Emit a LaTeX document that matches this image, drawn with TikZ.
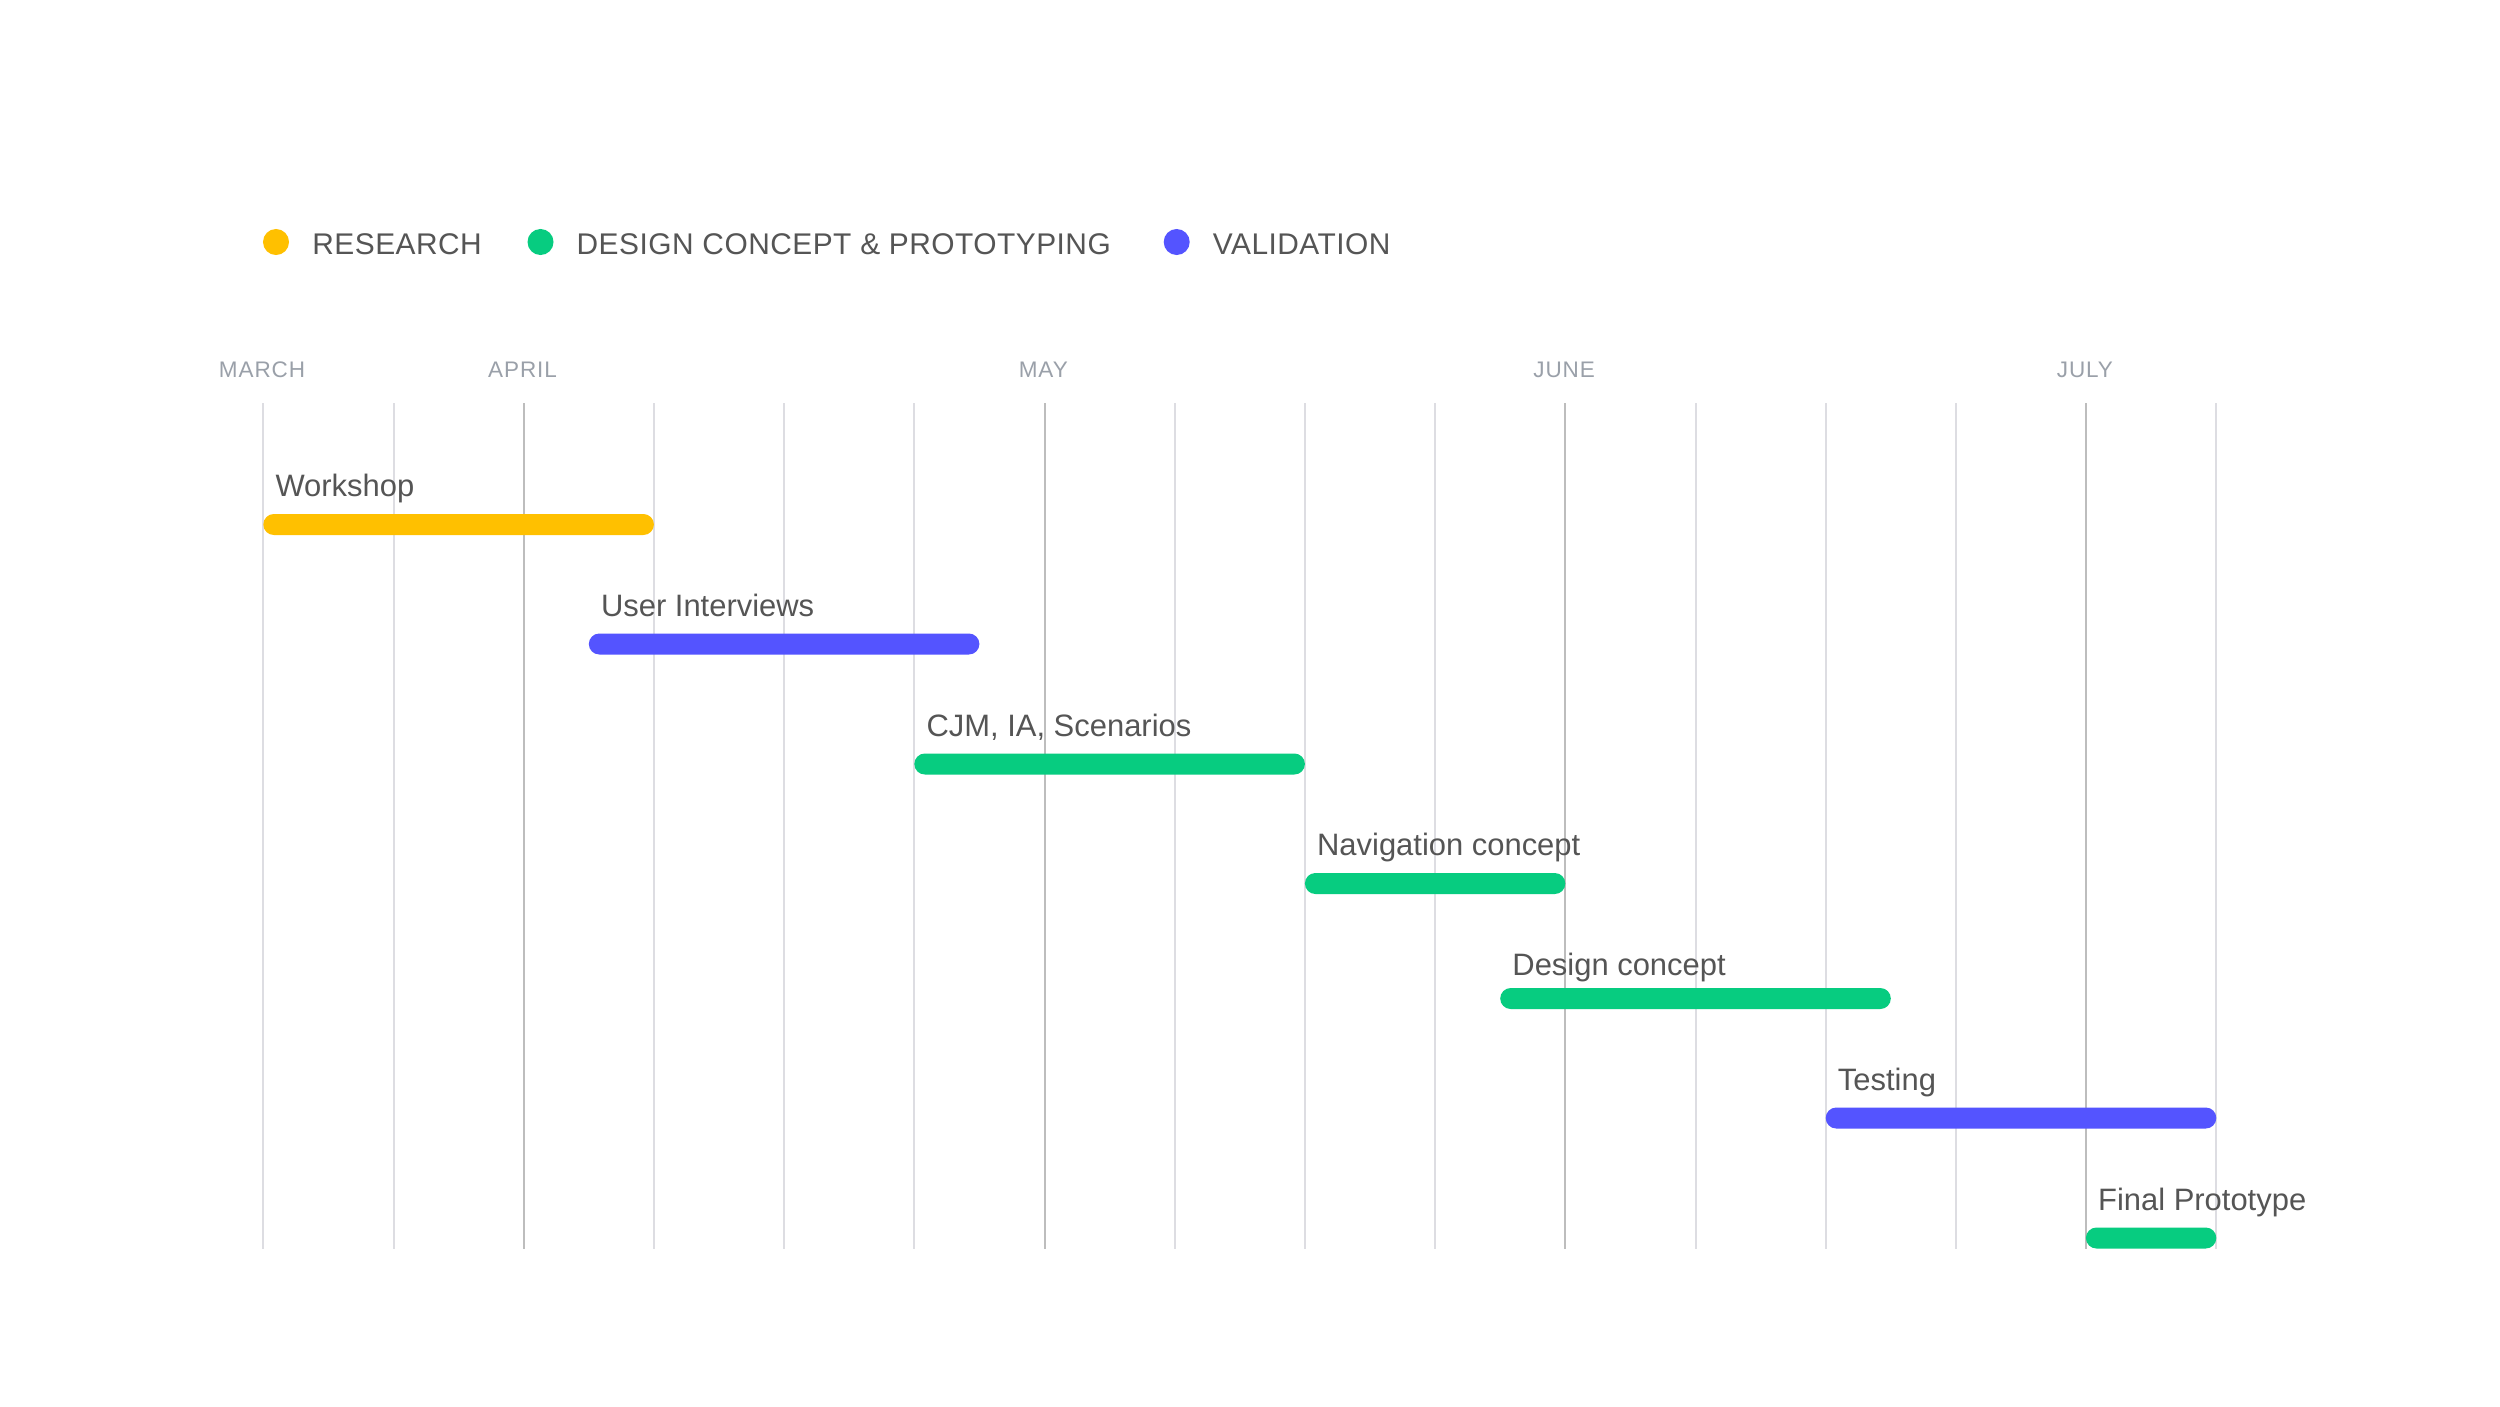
\documentclass[tikz,border=0pt]{standalone}
\usepackage{fontspec}
\setmainfont{Liberation Sans}
\usepackage{xcolor}
\usepackage{tikz}
\usetikzlibrary{positioning,calc}

\definecolor{research}{HTML}{FFC000}
\definecolor{design}{HTML}{07CC80}
\definecolor{validation}{HTML}{5454FF}
\definecolor{labeltext}{HTML}{555555}
\definecolor{monthtext}{HTML}{9AA0A9}
\definecolor{gridlight}{HTML}{DDDDE2}
\definecolor{griddark}{HTML}{BDBDBD}

\tikzset{
    gridline/.style={draw=gridlight, line width=0.02cm},
    monthline/.style={draw=griddark, line width=0.02cm},
    monthlabel/.style={anchor=base, inner sep=0pt, text=monthtext, font=\fontsize{6.4}{7}\selectfont\addfontfeature{LetterSpace=4}},
    legendlabel/.style={anchor=base west, inner sep=0pt, text=labeltext, font=\fontsize{8.5}{10}\selectfont\addfontfeature{LetterSpace=1.6}},
    legenddot/.style={circle, inner sep=0pt, minimum size=0.26cm},
    tasklabel/.style={anchor=base west, inner sep=0pt, text=labeltext, font=\fontsize{8.8}{10}\selectfont},
    bar/.style={rounded corners=0.105cm}
}

\begin{document}
\begin{tikzpicture}[x=0.01cm, y=-0.01cm]
    \useasboundingbox [fill=white] (0, 0) rectangle (2500, 1406);

    % Legend
    \node [legenddot, fill=research] (dotresearch) at (276, 242) {};
    \node [legendlabel] (legresearch) at (311.7, 254) {RESEARCH};
    \node [legenddot, fill=design] (dotdesign) at (540.5, 242) {};
    \node [legendlabel] (legdesign) at (576, 254) {DESIGN CONCEPT \& PROTOTYPING};
    \node [legenddot, fill=validation] (dotvalidation) at (1176.7, 242) {};
    \node [legendlabel] (legvalidation) at (1212.2, 254) {VALIDATION};

    % Week grid
    \foreach \i in {0,...,15}
        \draw [gridline] ({263.3+130.2*\i}, 403) -- ({263.3+130.2*\i}, 1249);
    \foreach \i in {2,6,10,14}
        \draw [monthline] ({263.3+130.2*\i}, 403) -- ({263.3+130.2*\i}, 1249);

    % Months
    \node [monthlabel] (march) at (262, 377.5) {MARCH};
    \node [monthlabel] (april) at (522.5, 377.5) {APRIL};
    \node [monthlabel] (may) at (1043.3, 377.5) {MAY};
    \node [monthlabel] (june) at (1564.1, 377.5) {JUNE};
    \node [monthlabel] (july) at (2084.9, 377.5) {JULY};

    % Tasks
    \fill [bar, research] (263.3, 514) rectangle (653.9, 535);
    \node [tasklabel] (workshop) at (274.8, 496.5) {Workshop};

    \fill [bar, validation] (588.8, 633.5) rectangle (979.4, 654.5);
    \node [tasklabel] (interviews) at (600.3, 616) {User Interviews};

    \fill [bar, design] (914.3, 753.5) rectangle (1304.9, 774.5);
    \node [tasklabel] (scenarios) at (925.8, 736) {CJM, IA, Scenarios};

    \fill [bar, design] (1304.9, 873) rectangle (1565.3, 894);
    \node [tasklabel] (navigation) at (1316.4, 855.5) {Navigation concept};

    \fill [bar, design] (1500.2, 988) rectangle (1890.8, 1009);
    \node [tasklabel] (designconcept) at (1511.7, 975) {Design concept};

    \fill [bar, validation] (1825.7, 1107.5) rectangle (2216.3, 1128.5);
    \node [tasklabel] (testing) at (1837.2, 1090) {Testing};

    \fill [bar, design] (2085.9, 1227.5) rectangle (2216.3, 1248.5);
    \node [tasklabel] (prototype) at (2097.4, 1210) {Final Prototype};
\end{tikzpicture}
\end{document}
